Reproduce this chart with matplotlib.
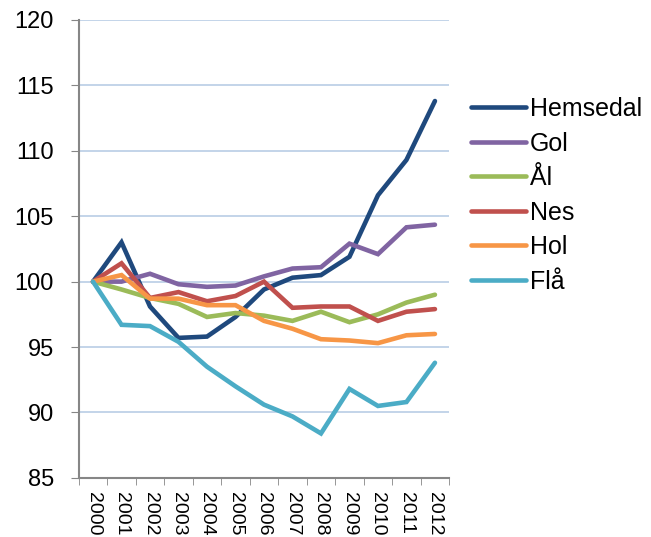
import numpy as np
import matplotlib.pyplot as plt

plt.rcParams['font.family'] = ['Liberation Sans', 'DejaVu Sans']

years = ['2000', '2001', '2002', '2003', '2004', '2005', '2006',
         '2007', '2008', '2009', '2010', '2011', '2012']

hemsedal = [100, 103.0, 98.1, 95.7, 95.8, 97.3, 99.4, 100.3, 100.5, 101.9, 106.6, 109.3, 113.8]
gol = [100, 100.0, 100.6, 99.8, 99.6, 99.7, 100.4, 101.0, 101.1, 102.9, 102.1, 104.15, 104.35]
aal = [100, 99.4, 98.75, 98.3, 97.3, 97.6, 97.4, 97.0, 97.7, 96.9, 97.5, 98.4, 99.0]
nes = [100, 101.4, 98.75, 99.2, 98.5, 98.9, 100.0, 98.0, 98.1, 98.1, 97.0, 97.7, 97.9]
hol = [100, 100.5, 98.7, 98.7, 98.2, 98.2, 97.0, 96.4, 95.6, 95.5, 95.3, 95.9, 96.0]
flaa = [100, 96.7, 96.6, 95.4, 93.5, 92.0, 90.6, 89.7, 88.4, 91.8, 90.5, 90.8, 93.8]

names = ['Hemsedal', 'Gol', 'Ål', 'Nes', 'Hol', 'Flå']
colors = ['#1F497D', '#8064A2', '#9BBB59', '#C0504D', '#F79646', '#4BACC6']
series = [hemsedal, gol, aal, nes, hol, flaa]

fig = plt.figure(figsize=(6.51, 5.37), dpi=100)
ax = fig.add_axes([0.121, 0.110, 0.569, 0.853])

x = np.arange(len(years))
for vals, name, c in zip(series, names, colors):
    ax.plot(x, vals, color=c, lw=3.3, label=name, solid_capstyle='round', solid_joinstyle='miter')

ax.set_ylim(85, 120)
ax.set_yticks(np.arange(85, 121, 5))
ax.set_xlim(-0.5, len(years) - 0.5)
ax.set_xticks(x)
ax.set_xticklabels(years, rotation=-90, fontsize=14)
ax.set_xticks(np.arange(-0.5, len(years)), minor=True)
ax.tick_params(axis='x', which='major', length=0, pad=10)
ax.tick_params(axis='x', which='minor', length=5, color='#868686')
ax.tick_params(axis='y', labelsize=17, length=6, color='#868686', pad=12)

ax.grid(axis='y', color='#B9CDE5', lw=1.2)
ax.set_axisbelow(True)
for s in ['top', 'right']:
    ax.spines[s].set_visible(False)
for s in ['left', 'bottom']:
    ax.spines[s].set_color('#868686')
    ax.spines[s].set_linewidth(1.5)

ax.legend(loc='upper left', bbox_to_anchor=(0.7235, 0.819), bbox_transform=fig.transFigure,
          frameon=False, fontsize=18, handlelength=2.2, handletextpad=0.16,
          labelspacing=0.42, borderpad=0, borderaxespad=0)

fig.savefig('out.png', dpi=100)
